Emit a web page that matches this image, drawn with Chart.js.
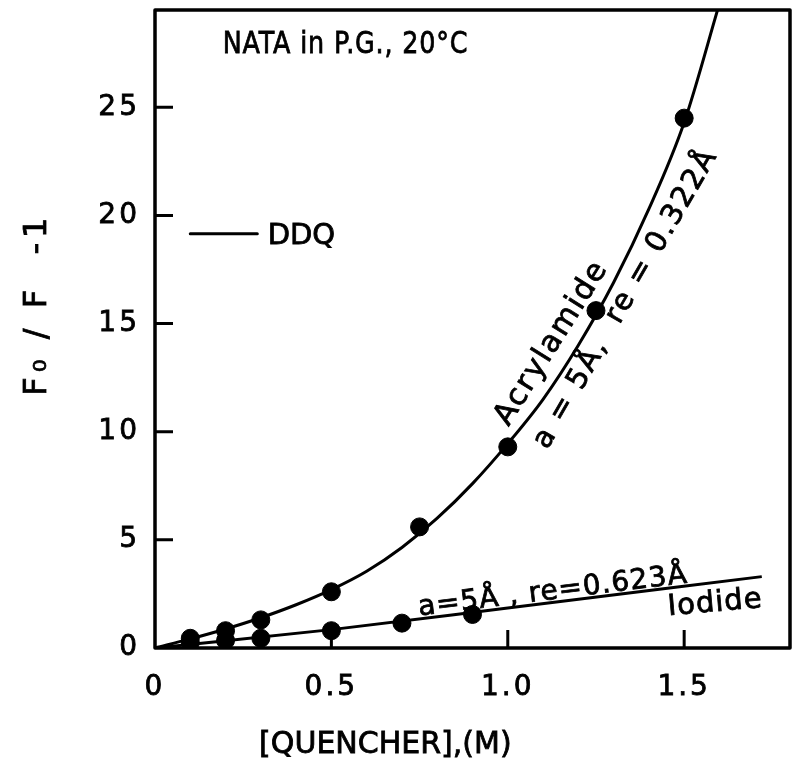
<!DOCTYPE html>
<html>
<head>
<meta charset="utf-8">
<script src="https://cdn.jsdelivr.net/npm/chart.js@4.4.1/dist/chart.umd.min.js"></script>
<style>
  body { margin: 0; background: #fff; }
  canvas { display: block; }
</style>
</head>
<body>
<canvas id="quenchChart" width="800" height="773"></canvas>
<script>
// measured points
const acrylX = [0.1, 0.2, 0.3, 0.5, 0.75, 1.0, 1.25, 1.5];
const acrylY = [0.45, 0.8, 1.3, 2.6, 5.6, 9.3, 15.6, 24.5];
const iodX = [0.1, 0.2, 0.3, 0.5, 0.7, 0.9];
const iodY = [0.25, 0.35, 0.45, 0.8, 1.15, 1.55];

// theoretical curves
const acrylCurveX = [0, 0.1, 0.2, 0.3, 0.4, 0.5, 0.6, 0.7, 0.8, 0.9, 1.0, 1.1, 1.2, 1.3, 1.4, 1.5, 1.6];
const acrylCurveY = [0, 0.42, 0.88, 1.4, 2.0, 2.7, 3.55, 4.65, 6.0, 7.6, 9.45, 11.5, 14.0, 16.9, 20.3, 24.3, 29.8];
const iodCurveX = [0, 0.5, 1.0, 1.72];
const iodCurveY = [0, 0.85, 1.85, 3.3];

// axes
const xTicks = [0, 0.5, 1.0, 1.5];
const xTickLabels = ['0', '0.5', '1.0', '1.5'];
const yTicks = [0, 5, 10, 15, 20, 25];
const yTickLabels = ['0', '5', '10', '15', '20', '25'];

const FONT = "'DejaVu Sans', sans-serif";

function pts(xs, ys) {
    return xs.map((x, i) => ({ x: x, y: ys[i] }));
}

// draws rotated text anchored at a data position (stroked a little to look like the inked lettering)
function label(chart, str, xv, yv, angle, size, spacing, sx) {
    const ctx = chart.ctx;
    ctx.save();
    ctx.translate(chart.scales.x.getPixelForValue(xv), chart.scales.y.getPixelForValue(yv));
    ctx.rotate(angle * Math.PI / 180);
    ctx.scale(sx || 1, 1);
    ctx.font = size + 'px ' + FONT;
    ctx.letterSpacing = (spacing || 0) + 'px';
    ctx.fillStyle = '#000';
    ctx.strokeStyle = '#000';
    ctx.lineWidth = 0.8;
    ctx.textAlign = 'center';
    ctx.textBaseline = 'middle';
    ctx.fillText(str, 0, 0);
    ctx.strokeText(str, 0, 0);
    ctx.restore();
}

const framePlugin = {
    id: 'frame',
    beforeDraw(chart) {
        const ctx = chart.ctx;
        ctx.save();
        ctx.fillStyle = '#fff';
        ctx.fillRect(0, 0, chart.width, chart.height);
        ctx.restore();
        ctx.letterSpacing = '3px';
    },
    afterDraw(chart) {
        const { ctx, chartArea: a, scales: { x, y } } = chart;
        ctx.save();
        ctx.strokeStyle = '#000';
        ctx.lineWidth = 3.5;
        ctx.lineJoin = 'round';
        ctx.strokeRect(a.left, a.top, a.right - a.left, a.bottom - a.top);

        // ticks point inward
        ctx.lineWidth = 3;
        ctx.beginPath();
        xTicks.slice(1).forEach(v => {
            const px = x.getPixelForValue(v);
            ctx.moveTo(px, a.bottom);
            ctx.lineTo(px, a.bottom - 18);
        });
        yTicks.slice(1).forEach(v => {
            const py = y.getPixelForValue(v);
            ctx.moveTo(a.left, py);
            ctx.lineTo(a.left + 18, py);
        });
        ctx.stroke();

        // DDQ key
        ctx.beginPath();
        ctx.lineCap = 'round';
        ctx.moveTo(x.getPixelForValue(0.1), y.getPixelForValue(19.15));
        ctx.lineTo(x.getPixelForValue(0.29), y.getPixelForValue(19.15));
        ctx.stroke();
        ctx.restore();

        label(chart, 'DDQ', 0.415, 19.05, 0, 29, 0);
        label(chart, 'NATA in P.G., 20°C', 0.54, 27.9, 0, 31, 1, 0.82);
        label(chart, 'Acrylamide', 1.125, 14.1, -58, 30, 2);
        label(chart, 'a = 5Å,  re = 0.322Å', 1.335, 16.15, -60, 29, 2);
        label(chart, 'a=5Å , re=0.623Å', 1.128, 2.6, -7, 28, 1);
        label(chart, 'Iodide', 1.588, 2.05, -5, 29, 1);

        // axis titles
        ctx.save();
        ctx.fillStyle = '#000';
        ctx.strokeStyle = '#000';
        ctx.lineWidth = 0.8;
        ctx.font = '30px ' + FONT;
        ctx.letterSpacing = '0px';
        ctx.textAlign = 'center';
        ctx.textBaseline = 'middle';
        const qx = x.getPixelForValue(0.653);
        ctx.fillText('[QUENCHER],(M)', qx, a.bottom + 97);
        ctx.strokeText('[QUENCHER],(M)', qx, a.bottom + 97);
        ctx.translate(38, y.getPixelForValue(15.9));
        ctx.rotate(-Math.PI / 2);
        ctx.font = '32px ' + FONT;
        ctx.letterSpacing = '5px';
        ctx.fillText('F₀ / F  -1', 0, 0);
        ctx.strokeText('F₀ / F  -1', 0, 0);
        ctx.restore();
    }
};

const ctx = document.getElementById('quenchChart').getContext('2d');
const quenchChart = new Chart(ctx, {
    type: 'scatter',
    data: {
        datasets: [
            {
                label: 'Acrylamide fit',
                data: pts(acrylCurveX, acrylCurveY),
                showLine: true,
                borderColor: '#000',
                borderWidth: 3,
                pointRadius: 0,
                cubicInterpolationMode: 'monotone'
            },
            {
                label: 'Iodide fit',
                data: pts(iodCurveX, iodCurveY),
                showLine: true,
                borderColor: '#000',
                borderWidth: 3,
                pointRadius: 0,
                cubicInterpolationMode: 'monotone'
            },
            {
                label: 'Acrylamide',
                data: pts(acrylX, acrylY),
                backgroundColor: '#000',
                borderColor: '#000',
                pointRadius: 9
            },
            {
                label: 'Iodide',
                data: pts(iodX, iodY),
                backgroundColor: '#000',
                borderColor: '#000',
                pointRadius: 9
            }
        ]
    },
    options: {
        responsive: false,
        animation: false,
        layout: { padding: { top: 7, right: 9, left: 0, bottom: 0 } },
        plugins: {
            legend: { display: false },
            tooltip: { enabled: false }
        },
        scales: {
            x: {
                type: 'linear',
                min: 0,
                max: 1.8,
                grid: { display: false },
                border: { display: false },
                afterBuildTicks: s => { s.ticks = xTicks.map(v => ({ value: v })); },
                afterFit: s => { s.height = 125; s.paddingLeft = 0; s.paddingRight = 0; },
                ticks: {
                    color: '#000',
                    textStrokeColor: '#000',
                    textStrokeWidth: 0.8,
                    padding: 15,
                    maxRotation: 0,
                    font: { family: FONT, size: 28 },
                    callback: (v) => xTickLabels[xTicks.indexOf(v)]
                }
            },
            y: {
                min: 0,
                max: 29.5,
                grid: { display: false },
                border: { display: false },
                afterBuildTicks: s => { s.ticks = yTicks.map(v => ({ value: v })); },
                afterFit: s => { s.width = 155; s.paddingTop = 0; s.paddingBottom = 0; },
                ticks: {
                    color: '#000',
                    textStrokeColor: '#000',
                    textStrokeWidth: 0.8,
                    padding: 7,
                    font: { family: FONT, size: 28 },
                    callback: (v) => yTickLabels[yTicks.indexOf(v)]
                }
            }
        }
    },
    plugins: [framePlugin]
});
</script>
</body>
</html>
